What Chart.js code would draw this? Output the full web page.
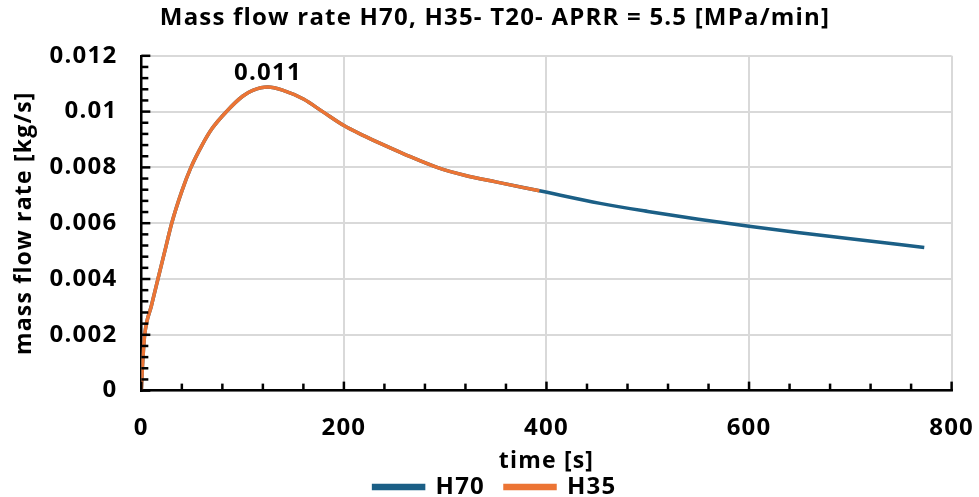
<!DOCTYPE html>
<html>
<head>
<meta charset="utf-8">
<script src="https://cdn.jsdelivr.net/npm/chart.js@4"></script>
<style>
  html, body { margin: 0; padding: 0; background: #fff; }
  #wrap { width: 979px; height: 497px; }
</style>
</head>
<body>
<div id="wrap"><canvas id="flow-chart"></canvas></div>
<script>
// values
const h70Time = [0, 1, 2, 3.3, 10, 16.4, 23, 30, 40, 49, 60, 70, 84, 100, 110, 125, 140, 160, 179, 200, 220, 237, 260, 292, 320, 350, 393, 453, 500, 550, 600, 650, 700, 773];
const h70Flow = [0, 0.0008, 0.0014, 0.002, 0.00305, 0.004, 0.00497, 0.006, 0.00715, 0.008, 0.0088, 0.0094, 0.01, 0.01055, 0.01076, 0.01088, 0.01076, 0.01045, 0.01, 0.0095, 0.00913, 0.00884, 0.00847, 0.008, 0.00771, 0.00748, 0.00716, 0.00671, 0.00642, 0.00614, 0.00589, 0.00566, 0.00544, 0.00513];
const h35Time = [0, 1, 2, 3.3, 10, 16.4, 23, 30, 40, 49, 60, 70, 84, 100, 110, 125, 140, 160, 179, 200, 220, 237, 260, 292, 320, 350, 393];
const h35Flow = [0, 0.0008, 0.0014, 0.002, 0.00305, 0.004, 0.00497, 0.006, 0.00715, 0.008, 0.0088, 0.0094, 0.01, 0.01055, 0.01076, 0.01088, 0.01076, 0.01045, 0.01, 0.0095, 0.00913, 0.00884, 0.00847, 0.008, 0.00771, 0.00748, 0.00716];
const xTicks = [0, 200, 400, 600, 800];
const yTicks = [0, 0.002, 0.004, 0.006, 0.008, 0.01, 0.012];

const FONT = "'Open Sans', 'Noto Sans', sans-serif";
const toPoints = (xs, ys) => xs.map((x, i) => ({ x: x, y: ys[i] }));

// the original font is wider, open the letters up a bit
const spacing = {
  id: 'spacing',
  beforeLayout(chart) { chart.ctx.letterSpacing = '1.2px'; },
  beforeDraw(chart) { chart.ctx.letterSpacing = '1.2px'; }
};

// inward minor/major tick marks like the original
const tickMarks = {
  id: 'tickMarks',
  afterDraw(chart) {
    const { ctx, chartArea, scales } = chart;
    ctx.save();
    ctx.strokeStyle = '#000';
    ctx.lineWidth = 2.5;
    for (let t = 0; t <= 800; t += 40) {
      const px = scales.x.getPixelForValue(t);
      const len = t % 200 === 0 ? 9 : 7;
      ctx.beginPath();
      ctx.moveTo(px, chartArea.bottom);
      ctx.lineTo(px, chartArea.bottom - len);
      ctx.stroke();
    }
    for (let i = 0; i <= 30; i++) {
      const py = scales.y.getPixelForValue(i * 0.0004);
      const len = i % 5 === 0 ? 9 : 7;
      ctx.beginPath();
      ctx.moveTo(chartArea.left, py);
      ctx.lineTo(chartArea.left + len, py);
      ctx.stroke();
    }
    ctx.restore();
  }
};

// label above the peak of the H70 curve
const peakLabel = {
  id: 'peakLabel',
  afterDatasetsDraw(chart) {
    const { ctx, scales } = chart;
    let k = 0;
    h70Flow.forEach((v, i) => { if (v > h70Flow[k]) k = i; });
    const px = scales.x.getPixelForValue(h70Time[k]);
    const py = scales.y.getPixelForValue(h70Flow[k]);
    ctx.save();
    ctx.font = 'bold 24px ' + FONT;
    ctx.fillStyle = '#000';
    ctx.textAlign = 'center';
    ctx.textBaseline = 'bottom';
    ctx.fillText(h70Flow[k].toFixed(3), px, py - 2);
    ctx.restore();
  }
};

new Chart(document.getElementById('flow-chart'), {
  type: 'line',
  data: {
    datasets: [
      {
        label: 'H70',
        data: toPoints(h70Time, h70Flow),
        borderColor: '#1b5f86',
        backgroundColor: '#1b5f86',
        borderWidth: 3.5,
        pointRadius: 0,
        cubicInterpolationMode: 'monotone',
        order: 2
      },
      {
        label: 'H35',
        data: toPoints(h35Time, h35Flow),
        borderColor: '#ec7434',
        backgroundColor: '#ec7434',
        borderWidth: 3.5,
        pointRadius: 0,
        cubicInterpolationMode: 'monotone',
        order: 1
      }
    ]
  },
  options: {
    responsive: true,
    maintainAspectRatio: false,
    animation: false,
    layout: { padding: { left: 11, right: 0, top: 4, bottom: -12 } },
    scales: {
      x: {
        type: 'linear',
        min: 0,
        max: 800,
        afterBuildTicks: s => { s.ticks = xTicks.map(v => ({ value: v })); },
        grid: { color: '#d9d9d9', lineWidth: 2, drawTicks: true, tickLength: 18, tickColor: 'rgba(0,0,0,0)' },
        border: { color: '#000', width: 2.5 },
        ticks: { color: '#000', padding: 5, font: { family: FONT, size: 24, weight: 'bold' } },
        title: {
          display: true,
          text: 'time [s]',
          color: '#000',
          padding: { top: 0, bottom: -20 },
          font: { family: FONT, size: 23, weight: 'bold' }
        }
      },
      y: {
        min: 0,
        max: 0.012,
        afterBuildTicks: s => { s.ticks = yTicks.map(v => ({ value: v })); },
        grid: { color: '#d9d9d9', lineWidth: 2, drawTicks: false },
        border: { color: '#000', width: 2.5 },
        ticks: {
          color: '#000',
          padding: 24,
          font: { family: FONT, size: 24, weight: 'bold' },
          callback: v => String(+v.toFixed(4))
        },
        title: {
          display: true,
          text: 'mass flow rate [kg/s]',
          color: '#000',
          padding: { top: 0, bottom: -13 },
          font: { family: FONT, size: 23, weight: 'bold' }
        }
      }
    },
    plugins: {
      title: {
        display: true,
        text: 'Mass flow rate H70, H35- T20- APRR = 5.5 [MPa/min]',
        color: '#000',
        padding: { top: 0, bottom: 23 },
        font: { family: FONT, size: 24, weight: 'bold' }
      },
      legend: {
        position: 'bottom',
        labels: {
          color: '#000',
          boxWidth: 50,
          boxHeight: 3,
          padding: 20,
          font: { family: FONT, size: 24, weight: 'bold' },
          sort: (a, b) => a.datasetIndex - b.datasetIndex
        }
      },
      tooltip: { enabled: false }
    }
  },
  plugins: [spacing, tickMarks, peakLabel]
});
</script>
</body>
</html>
